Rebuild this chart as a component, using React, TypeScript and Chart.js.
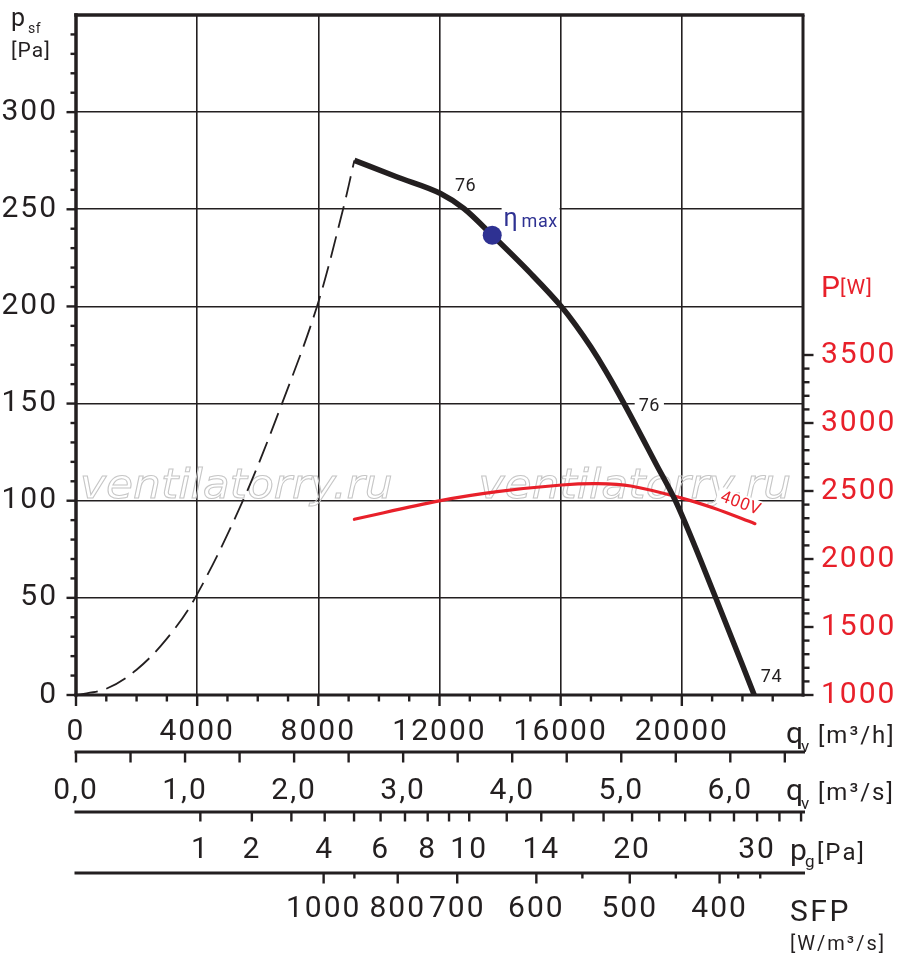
import React, { useEffect, useRef } from 'react';
import { Chart, registerables } from 'chart.js';

Chart.register(...registerables);

const INK = '#231f20';
const RED = '#e8202a';
const BLUE = '#2e3192';
const FONT = 'Roboto, "Noto Sans", "DejaVu Sans", sans-serif';

// ---------- data (flow in m³/h) ----------
const fanFlow = [9190, 10601, 12033, 12804, 13741, 15008, 16000, 16496, 16992, 17488, 18093, 19140, 19802, 21124, 22390];
const fanPressure = [275.2, 266.6, 258.1, 250.4, 236.6, 217.0, 200.3, 190.4, 179.2, 166.7, 150.0, 119.2, 99.5, 49.8, 0];
const stallFlow = [0, 1000, 2000, 3000, 3934, 5510, 6800, 7956, 8816, 9190];
const stallPressure = [0, 3.2, 13, 29, 50, 100, 150, 200, 250, 275.2];
const powerFlow = [9190, 12033, 13906, 16033, 17212, 18314, 20022, 21069, 22413];
const powerWatts = [2292, 2429, 2495, 2544, 2554, 2537, 2446, 2373, 2260];
const etaMaxFlow = 13741;
const etaMaxPressure = 236.6;

// ---------- axes ----------
const flowMax = 24000;
const flowTicks = [0, 4000, 8000, 12000, 16000, 20000];
const flowMinorStep = 1000;
const pressureMax = 350;
const pressureTicks = [0, 50, 100, 150, 200, 250, 300];
const pressureMinorStep = 10;
const powerMin = 1000;
const powerMax = 6000;
const powerTicks = [1000, 1500, 2000, 2500, 3000, 3500];
const powerMinorStep = 100;
const flowSecTicks = [0, 0.5, 1, 1.5, 2, 2.5, 3, 3.5, 4, 4.5, 5, 5.5, 6, 6.5];
const flowSecLabels = [0, 1, 2, 3, 4, 5, 6];
const pgLabels = [1, 2, 4, 6, 8, 10, 14, 20, 30];
const pgTickValues = [1, 2, 3, 4, 5, 6, 7, 8, 9, 10, 12, 14, 16, 18, 20, 22, 24, 26, 28, 30, 32, 34];
const pgFlowPerSqrtPa = 4105; // q [m³/h] = k·√pg
const sfpValues = [1000, 900, 800, 700, 600, 550, 500, 450, 400, 380, 360];
const sfpFlows = [8175, 9190, 10621, 12585, 15197, 16717, 18281, 19802, 21246, 21861, 22588];
const sfpLabels = [1000, 800, 700, 600, 500, 400];

// ---------- annotations (data coordinates) ----------
const curveLabels = [
  { text: '76', flow: 12860, pressure: 262.4 },
  { text: '76', flow: 18926, pressure: 149.2 },
  { text: '74', flow: 22959, pressure: 9.3 },
];
const etaLabel = { flow: 14116, pressure: 241.3 };
const voltLabel = { text: '400V', flow: 21950, power: 2412 };
const watermarks = [
  { flow: 132, pressure: 101.2 },
  { flow: 13289, pressure: 101.2 },
];

const pgFlow = (pg: number) => pgFlowPerSqrtPa * Math.sqrt(pg);

function seg(ctx: CanvasRenderingContext2D, x1: number, y1: number, x2: number, y2: number, w: number) {
  ctx.lineWidth = w;
  ctx.beginPath();
  ctx.moveTo(x1, y1);
  ctx.lineTo(x2, y2);
  ctx.stroke();
}

function txt(
  ctx: CanvasRenderingContext2D,
  s: string,
  x: number,
  y: number,
  size: number,
  color: string,
  spacing = 1,
  align: CanvasTextAlign = 'left',
  baseline: CanvasTextBaseline = 'alphabetic',
) {
  ctx.save();
  (ctx as any).letterSpacing = `${spacing}px`;
  ctx.font = `${size}px ${FONT}`;
  ctx.fillStyle = color;
  ctx.textAlign = align;
  ctx.textBaseline = baseline;
  ctx.fillText(s, x, y);
  ctx.restore();
}

function boxedText(
  ctx: CanvasRenderingContext2D,
  s: string,
  cx: number,
  cy: number,
  size: number,
  color: string,
  angle = 0,
) {
  ctx.save();
  ctx.translate(cx, cy);
  ctx.rotate(angle);
  (ctx as any).letterSpacing = '0.5px';
  ctx.font = `${size}px ${FONT}`;
  const w = ctx.measureText(s).width;
  ctx.fillStyle = '#ffffff';
  ctx.fillRect(-w / 2 - 4, -size * 0.5, w + 8, size);
  ctx.fillStyle = color;
  ctx.textAlign = 'center';
  ctx.textBaseline = 'middle';
  ctx.fillText(s, 0, 1);
  ctx.restore();
}

const decor = {
  id: 'decor',
  beforeDraw(chart: any) {
    chart.ctx.letterSpacing = '2px';
  },
  beforeDatasetsDraw(chart: any) {
    const { ctx, scales } = chart;
    const { x, y, y1 } = scales;
    ctx.save();
    // watermark
    (ctx as any).letterSpacing = '0px';
    ctx.font = 'oblique 40px "DejaVu Sans"';
    ctx.strokeStyle = '#c6c6c6';
    ctx.lineWidth = 1;
    ctx.textBaseline = 'alphabetic';
    ctx.textAlign = 'left';
    for (const w of watermarks) {
      ctx.save();
      ctx.translate(x.getPixelForValue(w.flow), y.getPixelForValue(w.pressure));
      ctx.scale(1.1, 1);
      ctx.strokeText('ventilatorry.ru', 0, 0);
      ctx.restore();
    }
    // curve labels
    for (const l of curveLabels) {
      boxedText(ctx, l.text, x.getPixelForValue(l.flow), y.getPixelForValue(l.pressure), 18, INK);
    }
    // η max
    const ex = x.getPixelForValue(etaLabel.flow);
    const ey = y.getPixelForValue(etaLabel.pressure);
    ctx.fillStyle = '#ffffff';
    ctx.fillRect(ex - 2, ey - 24, 58, 30);
    ctx.font = `25px ${FONT}`;
    (ctx as any).letterSpacing = '0px';
    ctx.fillStyle = BLUE;
    ctx.fillText('η', ex, ey);
    txt(ctx, 'max', ex + 18, ey + 1, 18, BLUE, 0.5);
    // 400V
    boxedText(ctx, voltLabel.text, x.getPixelForValue(voltLabel.flow), y1.getPixelForValue(voltLabel.power), 17, RED, 0.35);
    ctx.restore();
  },
  afterDraw(chart: any) {
    const { ctx, chartArea: a, scales } = chart;
    const { x, y, y1, xs, xpg, xsfp } = scales;
    ctx.save();
    ctx.strokeStyle = INK;
    ctx.lineCap = 'butt';
    // frame
    seg(ctx, a.left, a.top - 1.75, a.left, a.bottom + 1.5, 3.5);
    seg(ctx, a.left - 1.75, a.top, a.right + 1.5, a.top, 3.5);
    seg(ctx, a.right, a.top, a.right, a.bottom + 1.5, 3);
    seg(ctx, a.left - 1.75, a.bottom, a.right + 1.5, a.bottom, 3);
    // left ticks
    for (let v = 0; v < pressureMax; v += pressureMinorStep) {
      const py = y.getPixelForValue(v);
      const major = pressureTicks.includes(v);
      seg(ctx, a.left - (major ? 9.5 : 5.5), py, a.left, py, 2.4);
    }
    // right ticks
    for (let v = powerTicks[0]; v <= powerTicks[powerTicks.length - 1]; v += powerMinorStep) {
      const py = y1.getPixelForValue(v);
      const major = powerTicks.includes(v);
      seg(ctx, a.right, py, a.right + (major ? 10.5 : 6.5), py, 2.4);
    }
    // bottom ticks
    for (let v = 0; v < flowMax; v += flowMinorStep) {
      const px = x.getPixelForValue(v);
      const major = flowTicks.includes(v);
      seg(ctx, px, a.bottom, px, a.bottom + (major ? 11 : 6.5), 2.4);
    }
    // secondary scales
    for (const s of [xs, xpg, xsfp]) seg(ctx, a.left - 1.5, s.top, a.right + 2, s.top, 3);
    for (const v of flowSecTicks) {
      const px = xs.getPixelForValue(v);
      seg(ctx, px, xs.top, px, xs.top + 10.5, 2.4);
    }
    for (const v of pgTickValues) {
      const px = xpg.getPixelForValue(pgFlow(v));
      seg(ctx, px, xpg.top, px, xpg.top + 9.5, 2.4);
    }
    sfpValues.forEach((v, i) => {
      const px = xsfp.getPixelForValue(sfpFlows[i]);
      const major = sfpLabels.includes(v);
      seg(ctx, px, xsfp.top, px, xsfp.top + (major ? 10.5 : 5.5), 2.4);
    });
    // axis titles
    txt(ctx, 'p', 11, a.top + 11, 25, INK, 0);
    txt(ctx, 'sf', 28, a.top + 18, 14, INK, 0.5);
    txt(ctx, '[Pa]', 11, a.top + 41.5, 21, INK, 1);
    const pTop = y1.getPixelForValue(powerTicks[powerTicks.length - 1]);
    txt(ctx, 'P', a.right + 18, pTop - 58, 30, RED, 0);
    txt(ctx, '[W]', a.right + 37, pTop - 61, 21, RED, 1);
    const ux = a.right - 17;
    txt(ctx, 'q', ux, x.top + 48, 30, INK, 0);
    txt(ctx, 'v', ux + 15, x.top + 57, 17, INK, 0);
    txt(ctx, '[m³/h]', ux + 32, x.top + 48, 24, INK, 2);
    txt(ctx, 'q', ux, xs.top + 48, 30, INK, 0);
    txt(ctx, 'v', ux + 15, xs.top + 57, 17, INK, 0);
    txt(ctx, '[m³/s]', ux + 32, xs.top + 48, 24, INK, 2);
    txt(ctx, 'p', ux + 4, xpg.top + 48, 30, INK, 0);
    txt(ctx, 'g', ux + 19, xpg.top + 55, 17, INK, 0);
    txt(ctx, '[Pa]', ux + 31, xpg.top + 48, 24, INK, 2);
    txt(ctx, 'SFP', ux + 4, xsfp.top + 48, 30, INK, 2.5);
    txt(ctx, '[W/m³/s]', ux + 4, xsfp.top + 77, 20, INK, 2);
    ctx.restore();
    ctx.letterSpacing = '0px';
  },
};

const tickFont = { family: FONT, size: 30, lineHeight: 1 };

const fitVertical = (w: number) => (s: any) => {
  s.width = w;
  s.paddingTop = 0;
  s.paddingBottom = 0;
};

export default function App() {
  const ref = useRef<HTMLCanvasElement | null>(null);

  useEffect(() => {
    document.body.style.margin = '0';
    const canvas = ref.current;
    if (!canvas) return;
    Chart.defaults.font.family = FONT;

    const fan = fanFlow.map((q, i) => ({ x: q, y: fanPressure[i] }));
    const stall = stallFlow.map((q, i) => ({ x: q, y: stallPressure[i] }));
    const power = powerFlow.map((q, i) => ({ x: q, y: powerWatts[i] }));

    const chart = new Chart(canvas, {
      type: 'scatter',
      data: {
        datasets: [
          {
            data: [{ x: etaMaxFlow, y: etaMaxPressure }],
            pointRadius: 9.5,
            pointBackgroundColor: BLUE,
            pointBorderWidth: 0,
            showLine: false,
          },
          {
            data: fan,
            showLine: true,
            borderColor: INK,
            borderWidth: 5.5,
            pointRadius: 0,
            cubicInterpolationMode: 'monotone',
            borderCapStyle: 'butt',
          },
          {
            data: stall,
            showLine: true,
            borderColor: INK,
            borderWidth: 1.8,
            borderDash: [22, 9],
            pointRadius: 0,
            tension: 0.35,
          },
          {
            data: power,
            yAxisID: 'y1',
            showLine: true,
            borderColor: RED,
            borderWidth: 3.2,
            pointRadius: 0,
            tension: 0.35,
            borderCapStyle: 'round',
          },
        ],
      } as any,
      options: {
        responsive: false,
        animation: false,
        events: [],
        layout: { padding: { top: 15, left: 0, right: 0, bottom: 0 } },
        plugins: { legend: { display: false }, tooltip: { enabled: false } },
        scales: {
          x: {
            type: 'linear',
            position: 'bottom',
            weight: 0,
            min: 0,
            max: flowMax,
            afterBuildTicks: (s: any) => { s.ticks = flowTicks.map((v) => ({ value: v })); },
            afterFit: (s: any) => { s.height = 57; },
            grid: { color: INK, lineWidth: 1.6, drawTicks: false },
            border: { display: false },
            ticks: {
              autoSkip: false, maxRotation: 0, minRotation: 0, padding: 22,
              font: tickFont, color: INK,
              callback: (v: any) => String(v),
            },
          },
          y: {
            type: 'linear',
            position: 'left',
            min: 0,
            max: pressureMax,
            afterBuildTicks: (s: any) => { s.ticks = pressureTicks.map((v) => ({ value: v })); },
            afterFit: fitVertical(76),
            grid: { color: INK, lineWidth: 1.6, drawTicks: false },
            border: { display: false },
            ticks: {
              autoSkip: false, padding: 18, font: tickFont, color: INK,
              callback: (v: any) => String(v),
            },
          },
          y1: {
            type: 'linear',
            position: 'right',
            min: powerMin,
            max: powerMax,
            afterBuildTicks: (s: any) => { s.ticks = powerTicks.map((v) => ({ value: v })); },
            afterFit: fitVertical(97),
            grid: { display: false, drawOnChartArea: false, drawTicks: false },
            border: { display: false },
            ticks: {
              autoSkip: false, padding: 18, font: tickFont, color: RED,
              callback: (v: any) => String(v),
            },
          },
          xs: {
            type: 'linear',
            position: 'bottom',
            weight: 1,
            min: 0,
            max: flowMax / 3600,
            afterBuildTicks: (s: any) => { s.ticks = flowSecTicks.map((v) => ({ value: v })); },
            afterFit: (s: any) => { s.height = 60; },
            grid: { display: false, drawTicks: false },
            border: { display: false },
            ticks: {
              autoSkip: false, maxRotation: 0, minRotation: 0, padding: 24,
              font: tickFont, color: INK,
              callback: (v: any) => (flowSecLabels.includes(v) ? Number(v).toFixed(1).replace('.', ',') : ''),
            },
          },
          xpg: {
            type: 'linear',
            position: 'bottom',
            weight: 2,
            min: 0,
            max: flowMax,
            afterBuildTicks: (s: any) => { s.ticks = pgLabels.map((p) => ({ value: pgFlow(p) })); },
            afterFit: (s: any) => { s.height = 61; },
            grid: { display: false, drawTicks: false },
            border: { display: false },
            ticks: {
              autoSkip: false, maxRotation: 0, minRotation: 0, padding: 23,
              font: tickFont, color: INK,
              callback: (_v: any, i: number) => String(pgLabels[i]),
            },
          },
          xsfp: {
            type: 'linear',
            position: 'bottom',
            weight: 3,
            min: 0,
            max: flowMax,
            afterBuildTicks: (s: any) => {
              s.ticks = sfpLabels.map((v) => ({ value: sfpFlows[sfpValues.indexOf(v)] }));
            },
            afterFit: (s: any) => { s.height = 97; },
            grid: { display: false, drawTicks: false },
            border: { display: false },
            ticks: {
              autoSkip: false, maxRotation: 0, minRotation: 0, padding: 21,
              font: tickFont, color: INK,
              callback: (_v: any, i: number) => String(sfpLabels[i]),
            },
          },
        },
      } as any,
      plugins: [decor as any],
    });

    return () => chart.destroy();
  }, []);

  return (
    <div style={{ width: 900, height: 970, background: '#fff' }}>
      <canvas ref={ref} width={900} height={970} style={{ display: 'block', width: 900, height: 970 }} />
    </div>
  );
}
